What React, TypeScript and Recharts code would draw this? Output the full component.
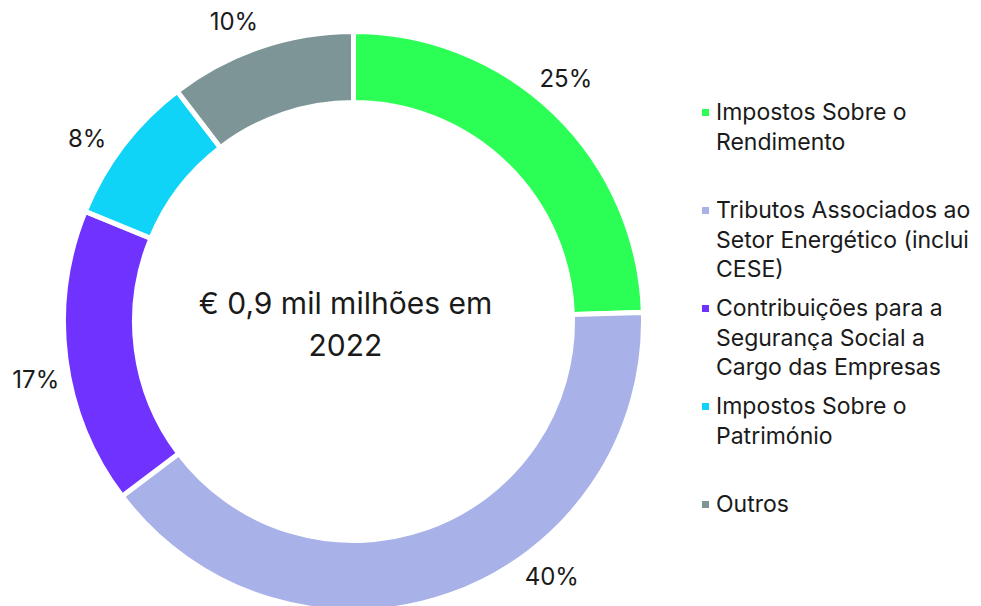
import { PieChart, Pie, Cell, Legend } from 'recharts';

const categories = [
  'Impostos Sobre o\nRendimento',
  'Tributos Associados ao\nSetor Energético (inclui\nCESE)',
  'Contribuições para a\nSegurança Social a\nCargo das Empresas',
  'Impostos Sobre o\nPatrimónio',
  'Outros',
];
const shares = [24.5, 40.2, 16.5, 8.4, 10.4];
const shareLabels = ['25%', '40%', '17%', '8%', '10%'];
const colors = ['#2bff55', '#a8b1e8', '#7033ff', '#10d3f8', '#7e9597'];
const centerLines = ['€ 0,9 mil milhões em', '2022'];

const data = categories.map((name, i) => ({ name, value: shares[i] }));

const FONT = 'Inter, "Noto Sans", sans-serif';
const INK = '#1a1a1a';
const RADIAN = Math.PI / 180;
const CX = 353.5;
const CY = 321.5;

const renderShareLabel = (props: any) => {
  const { cx, cy, midAngle, outerRadius, index } = props;
  const r = outerRadius + 33;
  const a = (midAngle + 3) * RADIAN;
  let x = cx + r * Math.cos(a);
  let y = cy - r * Math.sin(a);
  // keep labels inside the picture: slide them along the circle
  const maxDy = 255;
  if (y - cy > maxDy) {
    y = cy + maxDy;
    x = cx + Math.sign(Math.cos(a)) * Math.sqrt(r * r - maxDy * maxDy);
  }
  return (
    <text x={x} y={y} textAnchor="middle" dominantBaseline="central"
      fill={INK} fontSize={24} fontFamily={FONT}>
      {shareLabels[index]}
    </text>
  );
};

const LegendBox = () => (
  <div style={{ fontFamily: FONT, color: INK, fontSize: 23, lineHeight: '29.5px' }}>
    {categories.map((name, i) => (
      <div key={name} style={{ height: 98, display: 'flex', alignItems: 'flex-start' }}>
        <span style={{ width: 7, height: 7, marginTop: 11, marginRight: 7, flexShrink: 0, backgroundColor: colors[i] }} />
        <span style={{ whiteSpace: 'pre-line' }}>{name}</span>
      </div>
    ))}
  </div>
);

export default function App() {
  return (
    <div style={{ position: 'relative', width: 981, height: 606, background: '#fff', overflow: 'hidden' }}>
      <style>{`body{margin:0}`}</style>
      <PieChart width={981} height={606} margin={{ top: 0, right: 0, bottom: 0, left: 0 }}>
        <Pie
          data={data}
          dataKey="value"
          nameKey="name"
          cx={CX}
          cy={CY}
          innerRadius={219}
          outerRadius={290}
          startAngle={90}
          endAngle={-270}
          stroke="#ffffff"
          strokeWidth={5}
          label={renderShareLabel}
          labelLine={false}
          isAnimationActive={false}
        >
          {data.map((entry, index) => (
            <Cell key={`cell-${index}`} fill={colors[index]} />
          ))}
        </Pie>
        <Legend
          content={LegendBox}
          wrapperStyle={{ left: 702, top: 98, width: 279 }}
        />
      </PieChart>
      <div style={{
        position: 'absolute', left: CX - 8 - 200, top: 282, width: 400,
        textAlign: 'center', fontFamily: FONT, fontSize: 30, lineHeight: '42px', color: INK,
        pointerEvents: 'none',
      }}>
        {centerLines.map((line) => <div key={line}>{line}</div>)}
      </div>
    </div>
  );
}
